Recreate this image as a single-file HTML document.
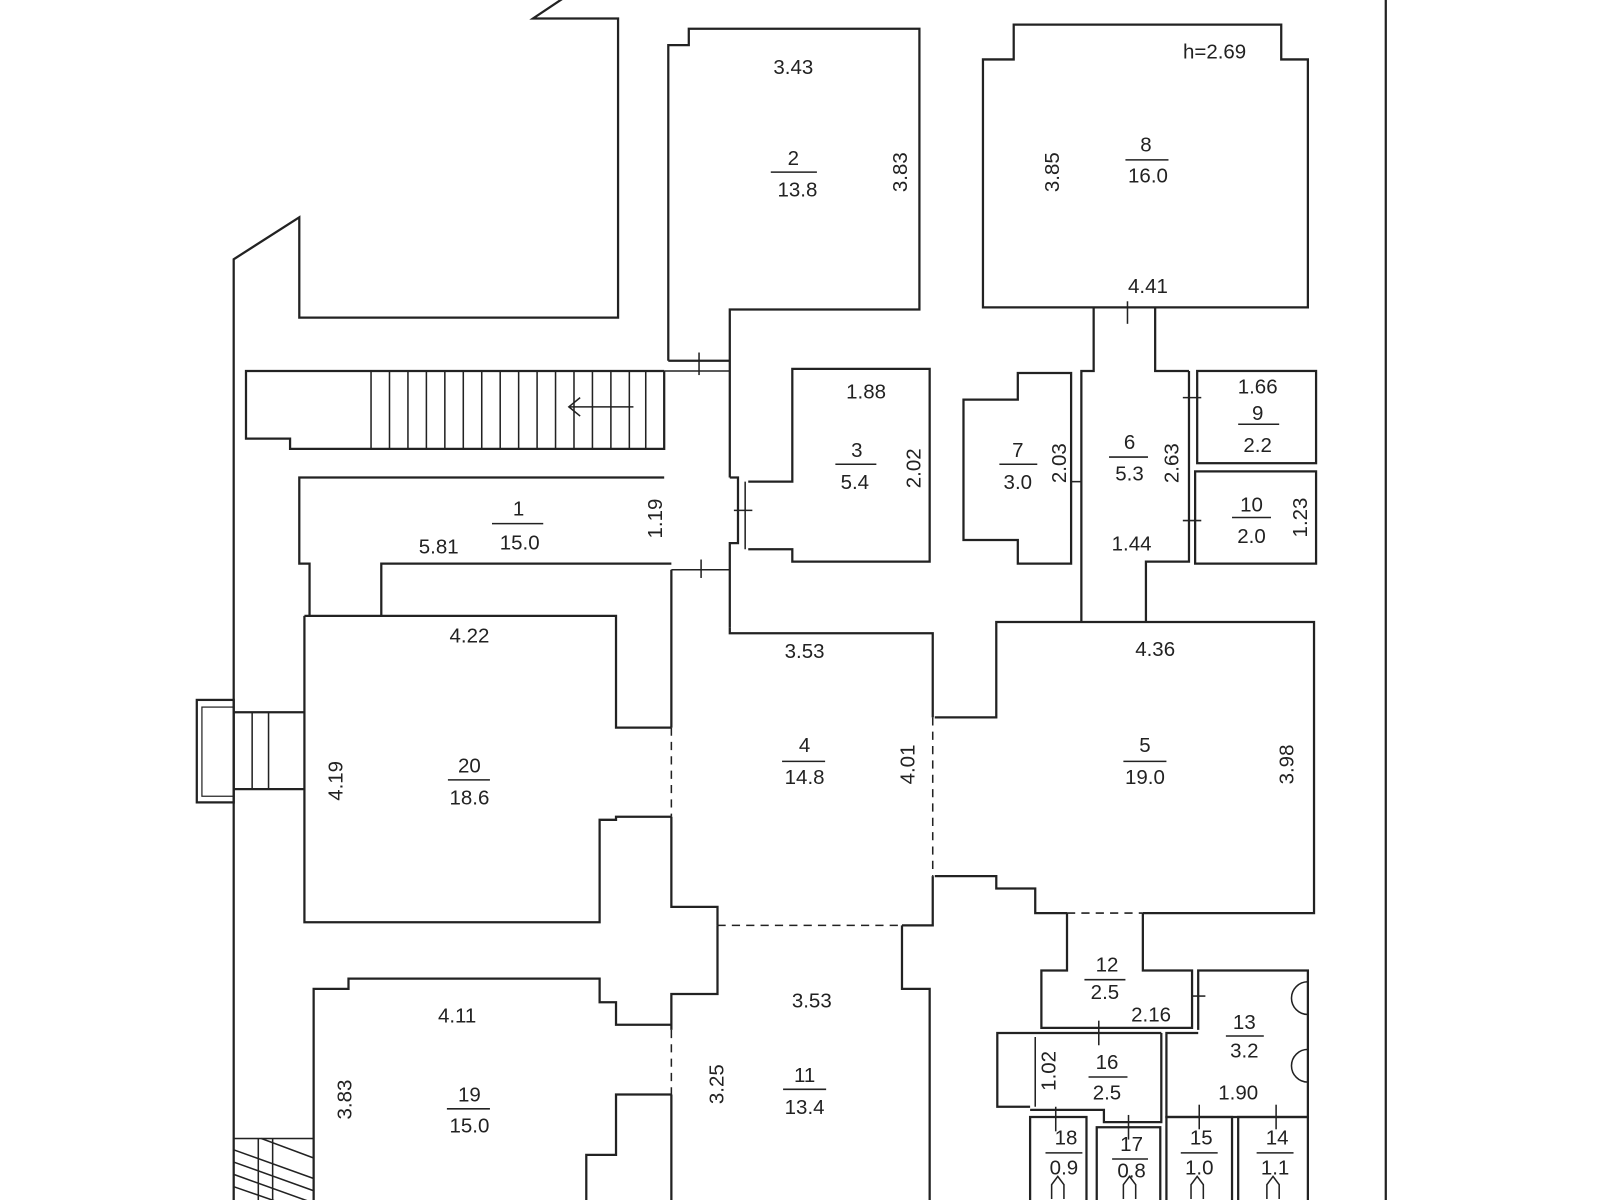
<!DOCTYPE html>
<html><head><meta charset="utf-8"><style>
html,body{margin:0;padding:0;background:#fff}
svg{display:block}
text{font-family:"Liberation Sans",sans-serif;font-size:20px;fill:#222;text-anchor:middle}
</style></head><body>
<svg width="1600" height="1200" viewBox="0 0 1561 1171" preserveAspectRatio="none" xmlns="http://www.w3.org/2000/svg">
<g fill="none" stroke="#222" stroke-width="2.2">
<!-- outer left/top -->
<polyline points="228,1176 228,253 292,212 292,310 603,310 603,18 520,18 550,-2"/>
<line x1="1352" y1="0" x2="1352" y2="1176"/>
<!-- stair -->
<polyline points="648,362 240,362 240,428 283,428 283,438 362,438 648,438 648,362"/>
<g stroke-width="1.5">
<line x1="362" y1="362" x2="362" y2="438"/><line x1="380" y1="362" x2="380" y2="438"/><line x1="398" y1="362" x2="398" y2="438"/><line x1="416" y1="362" x2="416" y2="438"/><line x1="434" y1="362" x2="434" y2="438"/><line x1="452" y1="362" x2="452" y2="438"/><line x1="470" y1="362" x2="470" y2="438"/><line x1="488" y1="362" x2="488" y2="438"/><line x1="506" y1="362" x2="506" y2="438"/><line x1="524" y1="362" x2="524" y2="438"/><line x1="542" y1="362" x2="542" y2="438"/><line x1="560" y1="362" x2="560" y2="438"/><line x1="578" y1="362" x2="578" y2="438"/><line x1="596" y1="362" x2="596" y2="438"/><line x1="614" y1="362" x2="614" y2="438"/><line x1="630" y1="362" x2="630" y2="438"/>
<line x1="555" y1="397" x2="618" y2="397"/><polyline points="566,388 555,397 566,406"/>
</g>
<line x1="648" y1="362" x2="712" y2="362" stroke-width="1.5"/>
<!-- corridor 1 -->
<polyline points="648,466 292,466 292,550 302,550 302,601"/>
<polyline points="372,601 372,550 655,550"/>
<line x1="302" y1="601" x2="372" y2="601" stroke-dasharray="8,6" stroke-width="1.5"/>
<!-- room 2 -->
<polyline points="652,352 652,44 672,44 672,28 897,28 897,302 712,302 712,466"/>
<line x1="652" y1="352" x2="712" y2="352"/>
<line x1="682" y1="344" x2="682" y2="366" stroke-width="1.5"/>
<!-- doors near room 3 -->
<polyline points="712,466 720,466 720,530 712,530 712,612" />
<line x1="727" y1="470" x2="727" y2="536" stroke-width="1.5"/>
<line x1="716" y1="498" x2="734" y2="498" stroke-width="1.5"/>
<line x1="684" y1="546" x2="684" y2="564" stroke-width="1.5"/>
<line x1="655" y1="556" x2="712" y2="556" stroke-width="1.5"/>
<!-- room 3 -->
<polyline points="730,470 773,470 773,360 907,360 907,548 773,548 773,536 730,536"/>
<!-- room 4 -->
<polyline points="655,556 655,710"/>
<line x1="655" y1="710" x2="655" y2="797" stroke-dasharray="8,6" stroke-width="1.5"/>
<polyline points="655,797 655,885 700,885 700,903"/>
<polyline points="712,612 712,618 910,618 910,700"/>
<line x1="910" y1="700" x2="910" y2="855" stroke-dasharray="8,6" stroke-width="1.5"/>
<polyline points="910,855 910,903 880,903"/>
<line x1="700" y1="903" x2="880" y2="903" stroke-dasharray="8,6" stroke-width="1.5"/>
<!-- room 20 -->
<polyline points="297,601 601,601 601,710 655,710"/>
<polyline points="297,601 297,900 585,900 585,800 601,800 601,797 655,797"/>
<rect x="192" y="683" width="36" height="100"/>
<rect x="197" y="690" width="31" height="87" stroke-width="1.2"/>
<line x1="228" y1="695" x2="297" y2="695"/><line x1="228" y1="770" x2="297" y2="770"/>
<line x1="246" y1="695" x2="246" y2="770" stroke-width="1.5"/><line x1="262" y1="695" x2="262" y2="770" stroke-width="1.5"/>
<!-- room 19 -->
<polyline points="306,1176 306,965 340,965 340,955 585,955 585,978 601,978 601,1000 655,1000"/>
<polyline points="655,1068 601,1068 601,1127 572,1127 572,1176"/>
<rect x="228" y="1111" width="78" height="65" stroke-width="1.5"/>
<g stroke-width="1.5"><line x1="228" y1="1122" x2="306" y2="1150"/><line x1="228" y1="1134" x2="306" y2="1162"/><line x1="228" y1="1146" x2="306" y2="1174"/><line x1="228" y1="1158" x2="280" y2="1176"/><line x1="255" y1="1111" x2="306" y2="1130"/><line x1="252" y1="1111" x2="252" y2="1176"/><line x1="266" y1="1111" x2="266" y2="1176"/></g>
<!-- room 11 -->
<polyline points="700,903 700,970 655,970 655,1005"/>
<line x1="655" y1="1005" x2="655" y2="1068" stroke-dasharray="8,6" stroke-width="1.5"/>
<polyline points="655,1068 655,1176"/>
<polyline points="880,903 880,965 907,965 907,1176"/>
<!-- room 8 -->
<polygon points="989,24 1250,24 1250,58 1276,58 1276,300 959,300 959,58 989,58"/>
<line x1="1100" y1="294" x2="1100" y2="316" stroke-width="1.5"/>
<!-- room 6 -->
<polyline points="1067,300 1067,362 1055,362 1055,607"/>
<polyline points="1127,300 1127,362 1160,362"/>
<polyline points="1160,362 1160,548 1118,548 1118,607"/>
<line x1="1057" y1="607" x2="1118" y2="607" stroke-dasharray="8,6" stroke-width="1.5"/>
<line x1="1045" y1="470" x2="1055" y2="470" stroke-width="1.5"/>
<line x1="1154" y1="388" x2="1172" y2="388" stroke-width="1.5"/>
<line x1="1154" y1="508" x2="1172" y2="508" stroke-width="1.5"/>
<!-- room 7 -->
<polygon points="993,364 1045,364 1045,550 993,550 993,527 940,527 940,390 993,390"/>
<!-- room 9,10 -->
<rect x="1168" y="362" width="116" height="90"/>
<rect x="1166" y="460" width="118" height="90"/>
<!-- room 5 -->
<polyline points="912,700 972,700 972,607 1282,607 1282,891 1115,891"/>
<polyline points="912,855 972,855 972,867 1010,867 1010,891 1041,891"/>
<line x1="1041" y1="891" x2="1115" y2="891" stroke-dasharray="8,6" stroke-width="1.5"/>
<!-- room 12 -->
<polyline points="1041,891 1041,947 1016,947 1016,1003 1163,1003 1163,947 1115,947 1115,891"/>
<!-- room 13 -->
<polyline points="1169,1005 1169,947 1276,947 1276,1090 1138,1090 1138,1008 1169,1008"/>
<line x1="1163" y1="972" x2="1176" y2="972" stroke-width="1.5"/>
<path d="M1276,958 A14,14 0 0 0 1276,990" stroke-width="1.5"/>
<path d="M1276,1024 A14,14 0 0 0 1276,1056" stroke-width="1.5"/>
<!-- room 16 -->
<polyline points="1133,1008 1133,1095 1077,1095 1077,1083 1005,1083"/>
<polyline points="1133,1008 973,1008 973,1080 1005,1080"/>
<line x1="1010" y1="1012" x2="1010" y2="1080" stroke-width="1.5"/>
<line x1="1072" y1="996" x2="1072" y2="1020" stroke-width="1.5"/>
<!-- small rooms -->
<polyline points="1005,1176 1005,1090 1060,1090 1060,1176"/>
<polyline points="1070,1176 1070,1100 1132,1100 1132,1176"/>
<polyline points="1138,1176 1138,1090 1202,1090 1202,1176"/>
<polyline points="1208,1176 1208,1090 1276,1090 1276,1176"/>
<g stroke-width="1.5">
<line x1="1030" y1="1080" x2="1030" y2="1104"/><line x1="1101" y1="1088" x2="1101" y2="1112"/>
<line x1="1170" y1="1078" x2="1170" y2="1102"/><line x1="1245" y1="1078" x2="1245" y2="1102"/>
<path d="M1026,1170 v-14 l6,-8 l6,8 v14"/><path d="M1096,1170 v-14 l6,-8 l6,8 v14"/>
<path d="M1162,1170 v-14 l6,-8 l6,8 v14"/><path d="M1236,1170 v-14 l6,-8 l6,8 v14"/>
</g>
<!-- fraction bars -->
<g stroke-width="1.5">
<line x1="752" y1="168" x2="797" y2="168"/><line x1="1098" y1="156" x2="1140" y2="156"/>
<line x1="480" y1="511" x2="530" y2="511"/><line x1="815" y1="453" x2="855" y2="453"/>
<line x1="975" y1="453" x2="1012" y2="453"/><line x1="1082" y1="446" x2="1120" y2="446"/>
<line x1="1208" y1="414" x2="1248" y2="414"/><line x1="1202" y1="505" x2="1240" y2="505"/>
<line x1="437" y1="761" x2="478" y2="761"/><line x1="763" y1="743" x2="805" y2="743"/>
<line x1="1096" y1="743" x2="1138" y2="743"/><line x1="1058" y1="956" x2="1098" y2="956"/>
<line x1="1196" y1="1011" x2="1233" y2="1011"/><line x1="1062" y1="1051" x2="1100" y2="1051"/>
<line x1="436" y1="1082" x2="478" y2="1082"/><line x1="764" y1="1063" x2="806" y2="1063"/>
<line x1="1020" y1="1125" x2="1056" y2="1125"/><line x1="1085" y1="1131" x2="1120" y2="1131"/>
<line x1="1152" y1="1125" x2="1188" y2="1125"/><line x1="1226" y1="1125" x2="1262" y2="1125"/>
</g>
</g>
<g>
<text x="774" y="72">3.43</text><text x="774" y="161">2</text><text x="778" y="192">13.8</text>
<text x="1185" y="57">h=2.69</text><text x="1118" y="148">8</text><text x="1120" y="178">16.0</text>
<text x="1120" y="286">4.41</text><text x="845" y="389">1.88</text><text x="836" y="446">3</text><text x="834" y="477">5.4</text>
<text x="506" y="503">1</text><text x="507" y="536">15.0</text><text x="428" y="540">5.81</text>
<text x="993" y="446">7</text><text x="993" y="477">3.0</text><text x="1102" y="438">6</text><text x="1102" y="469">5.3</text>
<text x="1227" y="384">1.66</text><text x="1227" y="410">9</text><text x="1227" y="441">2.2</text>
<text x="1221" y="499">10</text><text x="1221" y="530">2.0</text><text x="1104" y="537">1.44</text>
<text x="458" y="627">4.22</text><text x="785" y="642">3.53</text><text x="1127" y="640">4.36</text>
<text x="458" y="754">20</text><text x="458" y="785">18.6</text><text x="785" y="734">4</text><text x="785" y="765">14.8</text>
<text x="1117" y="734">5</text><text x="1117" y="765">19.0</text>
<text x="1080" y="948">12</text><text x="1078" y="975">2.5</text><text x="1123" y="997">2.16</text>
<text x="1214" y="1004">13</text><text x="1214" y="1032">3.2</text><text x="1208" y="1073">1.90</text>
<text x="446" y="998">4.11</text><text x="792" y="983">3.53</text>
<text x="458" y="1075">19</text><text x="458" y="1105">15.0</text><text x="785" y="1056">11</text><text x="785" y="1087">13.4</text>
<text x="1080" y="1043">16</text><text x="1080" y="1073">2.5</text>
<text x="1040" y="1117">18</text><text x="1038" y="1146">0.9</text><text x="1104" y="1123">17</text><text x="1104" y="1149">0.8</text>
<text x="1172" y="1117">15</text><text x="1170" y="1146">1.0</text><text x="1246" y="1117">14</text><text x="1244" y="1146">1.1</text>
<text transform="translate(885,168) rotate(-90)">3.83</text>
<text transform="translate(1033,168) rotate(-90)">3.85</text>
<text transform="translate(646,506) rotate(-90)">1.19</text>
<text transform="translate(898,457) rotate(-90)">2.02</text>
<text transform="translate(1040,452) rotate(-90)">2.03</text>
<text transform="translate(1150,452) rotate(-90)">2.63</text>
<text transform="translate(1275,505) rotate(-90)">1.23</text>
<text transform="translate(334,762) rotate(-90)">4.19</text>
<text transform="translate(892,746) rotate(-90)">4.01</text>
<text transform="translate(1262,746) rotate(-90)">3.98</text>
<text transform="translate(343,1073) rotate(-90)">3.83</text>
<text transform="translate(706,1058) rotate(-90)">3.25</text>
<text transform="translate(1030,1045) rotate(-90)">1.02</text>
</g>
</svg>
</body></html>
